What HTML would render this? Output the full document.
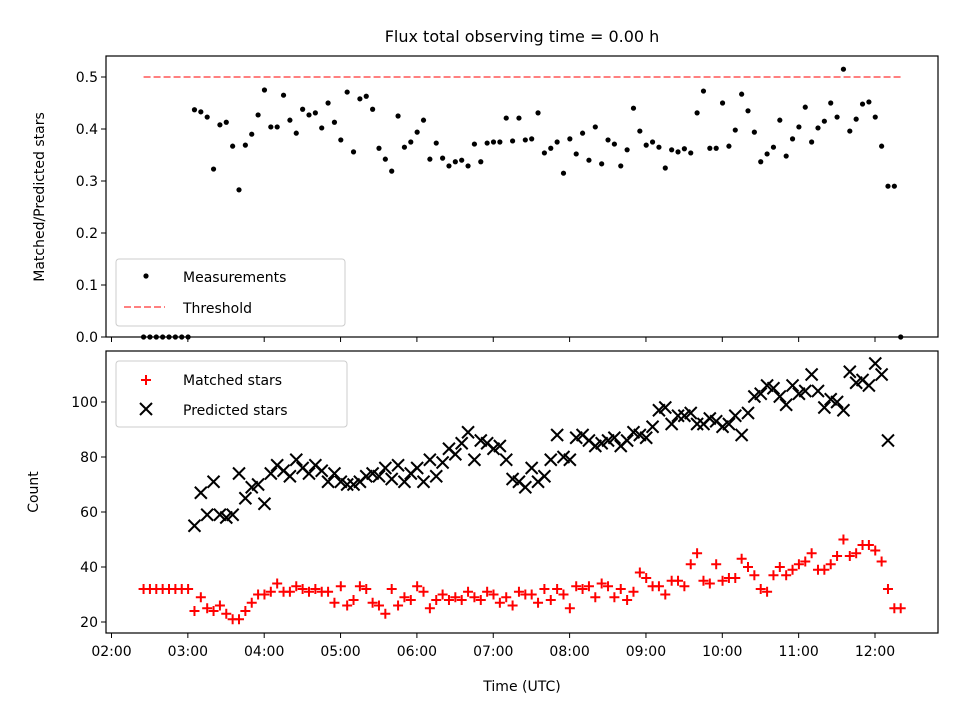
<!DOCTYPE html>
<html><head><meta charset="utf-8"><style>
html,body{margin:0;padding:0;background:#fff;}
svg{display:block;font-family:"DejaVu Sans","Liberation Sans",sans-serif;}
</style></head><body>
<svg id="chart" width="960" height="720" viewBox="0 0 960 720" xmlns="http://www.w3.org/2000/svg">
<rect width="960" height="720" fill="#fff"/>
<text x="522" y="42" font-size="16" text-anchor="middle">Flux total observing time = 0.00 h</text>
<g id="topPanel"></g>
<g id="botPanel"></g>
</svg>
<script>
const startHour = 2.42;
const stepHour = 5/60;
const xTickLabels = ["02:00","03:00","04:00","05:00","06:00","07:00","08:00","09:00","10:00","11:00","12:00"];
const xTickHours = [2,3,4,5,6,7,8,9,10,11,12];
const ratioTicks = [0.0,0.1,0.2,0.3,0.4,0.5];
const countTicks = [20,40,60,80,100];
const threshold = 0.5;
const ratio = [0,0,0,0,0,0,0,0,
.437,.433,.423,.323,.408,.413,.367,.283,.369,.390,.427,.475,.404,.404,.465,.417,.392,.438,.427,.431,.402,.450,.413,.379,.471,.356,.458,.463,.438,.363,.342,.319,.425,.365,.375,.394,
.417,.342,.373,.344,.329,.337,.340,.329,.371,.337,.373,.375,.375,.421,.377,.421,.379,.381,.431,.354,.363,.375,.315,.381,.352,.392,.340,.404,.333,.379,.371,.329,.360,.440,.396,.369,.375,.365,.325,.360,.356,
.362,.354,.431,.473,.363,.363,.450,.367,.398,.467,.435,.394,.337,.352,.365,.417,.348,.381,.404,.442,.375,.402,.415,.450,.423,.515,.396,.419,.448,.452,.423,.367,.290,.290,0];
const predicted = [null,null,null,null,null,null,null,null,
55,67,59,71,59,58,59,74,65,69,70,63,74,77,75,73,79,76,74,77,75,71,74,71,70,70,71,73,74,73,76,72,77,71,74,76,71,79,73,78,83,81,85,89,79,86,85,83,84,79,72,71,69,76,71,73,79,88,80,79,87,88,86,84,85,86,87,84,86,89,88,87,91,97,98,92,95,95,96,92,92,94,93,91,92,95,88,96,102,103,106,105,102,99,106,103,104,110,104,98,101,100,97,111,107,108,106,114,110,86,null];
const matched = [32,32,32,32,32,32,32,32,
24,29,25,24,26,23,21,21,24,27,30,30,31,34,31,31,33,32,31,32,31,31,27,33,26,28,33,32,27,26,23,32,26,29,28,33,31,25,28,30,28,29,28,31,29,28,31,30,27,29,26,31,30,30,27,32,28,32,30,25,33,32,33,29,34,33,29,32,28,31,38,36,33,33,30,35,35,33,41,45,35,34,41,35,36,36,43,40,37,32,31,37,40,37,39,41,42,45,39,39,41,44,50,44,45,48,48,46,42,32,25,25];

const NS="http://www.w3.org/2000/svg";
const L=106,R=938;
const x=h=>111.5+(h-2)*76.35;
const yT=v=>337-v*520;
const yB=c=>622-(c-20)*2.75;
function mk(p,tag,a){const e=document.createElementNS(NS,tag);for(const k in a)e.setAttribute(k,a[k]);p.appendChild(e);return e;}
const topG=document.getElementById('topPanel'),botG=document.getElementById('botPanel');

let e=mk(topG,'rect',{x:L,y:56,width:R-L,height:281,fill:'none',stroke:'#000','stroke-width':1.2});


ratioTicks.forEach(v=>{
  let t=mk(topG,'line',{x1:L-5,x2:L,y1:yT(v),y2:yT(v),stroke:'#000'});
  
  
  let s=mk(topG,'text',{x:L-8,y:yT(v)+5,'font-size':14,'text-anchor':'end'});s.textContent=v.toFixed(1);
  
  
});
xTickHours.forEach(h=>{
  let t=mk(topG,'line',{x1:x(h),x2:x(h),y1:337,y2:342,stroke:'#000'});
  
  
});
e=mk(topG,'text',{x:44,y:197,'font-size':14,'text-anchor':'middle',transform:'rotate(-90 44 197)'});e.textContent='Matched/Predicted stars';


const tEnd=startHour+(ratio.length-1)*stepHour;
e=mk(topG,'line',{x1:x(startHour),x2:x(tEnd),y1:yT(threshold),y2:yT(threshold),stroke:'#ff8080','stroke-width':2,'stroke-dasharray':'7,3'});


ratio.forEach((v,i)=>{
  let c=mk(topG,'circle',{cx:x(startHour+i*stepHour),cy:yT(v),r:2.6,fill:'#000'});
  
  
});
e=mk(topG,'rect',{x:116,y:259,width:229,height:67,rx:3,fill:'#fff','fill-opacity':0.8,stroke:'#ccc'});


mk(topG,'circle',{cx:146,cy:276,r:2.6,fill:'#000'});
e=mk(topG,'text',{x:183,y:282,'font-size':14});e.textContent='Measurements';


mk(topG,'line',{x1:124,x2:165,y1:307,y2:307,stroke:'#ff8080','stroke-width':2,'stroke-dasharray':'7,3'});
e=mk(topG,'text',{x:183,y:313,'font-size':14});e.textContent='Threshold';



e=mk(botG,'rect',{x:L,y:351,width:R-L,height:282,fill:'none',stroke:'#000','stroke-width':1.2});


countTicks.forEach(v=>{
  let t=mk(botG,'line',{x1:L-5,x2:L,y1:yB(v),y2:yB(v),stroke:'#000'});
  
  
  let s=mk(botG,'text',{x:L-8,y:yB(v)+5,'font-size':14,'text-anchor':'end'});s.textContent=v;
  
  
});
xTickHours.forEach((h,i)=>{
  let t=mk(botG,'line',{x1:x(h),x2:x(h),y1:633,y2:638,stroke:'#000'});
  
  
  let s=mk(botG,'text',{x:x(h),y:656,'font-size':14,'text-anchor':'middle'});s.textContent=xTickLabels[i];
  
  
});
e=mk(botG,'text',{x:38,y:492,'font-size':14,'text-anchor':'middle',transform:'rotate(-90 38 492)'});e.textContent='Count';


e=mk(botG,'text',{x:522,y:691,'font-size':14,'text-anchor':'middle'});e.textContent='Time (UTC)';


function plus(p,cx,cy){return mk(p,'path',{d:`M${cx-5},${cy}H${cx+5}M${cx},${cy-5}V${cy+5}`,stroke:'#f00','stroke-width':2});}
function cross(p,cx,cy){return mk(p,'path',{d:`M${cx-6},${cy-6}L${cx+6},${cy+6}M${cx-6},${cy+6}L${cx+6},${cy-6}`,stroke:'#000','stroke-width':2});}
matched.forEach((v,i)=>{
  let m=plus(botG,x(startHour+i*stepHour),yB(v));
  
  
});
predicted.forEach((v,i)=>{
  if(v===null)return;
  let m=cross(botG,x(startHour+i*stepHour),yB(v));
  
  
});
e=mk(botG,'rect',{x:116,y:361,width:231,height:66,rx:3,fill:'#fff','fill-opacity':0.8,stroke:'#ccc'});


plus(botG,146,380);
e=mk(botG,'text',{x:183,y:385,'font-size':14});e.textContent='Matched stars';


cross(botG,146,409);
e=mk(botG,'text',{x:183,y:415,'font-size':14});e.textContent='Predicted stars';


</script>
</body></html>
